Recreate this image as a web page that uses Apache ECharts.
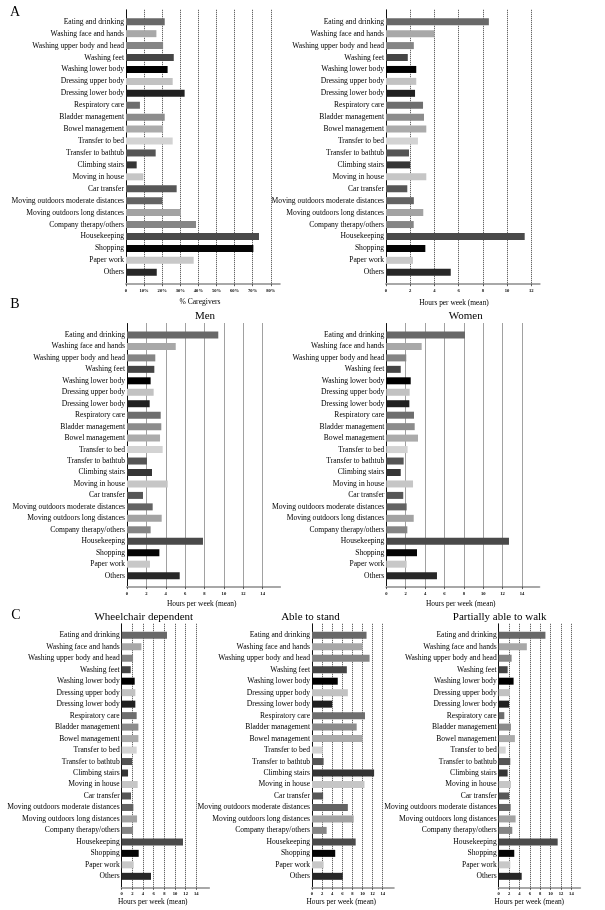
<!DOCTYPE html>
<html><head><meta charset="utf-8">
<script src="https://cdn.jsdelivr.net/npm/echarts@6/dist/echarts.min.js"></script>
<style>html,body{margin:0;padding:0;background:#fff}#c{width:605px;height:910px}</style>
</head><body><div id="c"></div>
<script>
const categories = ["Eating and drinking","Washing face and hands","Washing upper body and head","Washing feet","Washing lower body","Dressing upper body","Dressing lower body","Respiratory care","Bladder management","Bowel management","Transfer to bed","Transfer to bathtub","Climbing stairs","Moving in house","Car transfer","Moving outdoors moderate distances","Moving outdoors long distances","Company therapy/others","Housekeeping","Shopping","Paper work","Others"];
const pctCaregivers = [21.4,16.8,20.5,26.4,23.0,25.8,32.4,7.7,21.4,20.5,25.8,16.4,5.9,9.6,28.0,20.1,30.4,38.7,73.5,70.4,37.4,17.0];
const hoursAll = [8.5,4.0,2.3,1.8,2.5,2.5,2.4,3.06,3.14,3.33,2.64,1.9,2.0,3.33,1.76,2.3,3.08,2.29,11.46,3.25,2.23,5.35];
const hoursMen = [9.42,5.03,2.92,2.82,2.44,2.75,2.34,3.48,3.54,3.41,3.68,2.06,2.58,4.2,1.65,2.65,3.58,2.44,7.84,3.34,2.37,5.44];
const hoursWomen = [8.12,3.65,2.06,1.49,2.52,2.41,2.38,2.86,2.93,3.27,2.2,1.79,1.49,2.76,1.75,2.1,2.83,2.17,12.66,3.17,2.1,5.23];
const hoursWheelchair = [8.5,3.69,2.13,1.69,2.44,2.56,2.56,2.81,3.13,3.13,2.81,1.94,1.19,3.0,1.75,2.19,2.88,2.13,11.5,3.19,2.25,5.5];
const hoursStand = [10.8,10.0,11.4,6.9,5.1,7.1,4.0,10.5,8.85,10.0,2.1,2.3,12.3,10.4,2.2,7.1,8.25,2.9,8.65,4.6,2.3,6.1];
const hoursWalk = [9.0,5.42,2.49,1.72,2.87,2.17,1.98,1.08,2.36,3.12,1.34,2.23,1.72,2.36,1.98,2.3,3.25,2.62,11.36,3.0,2.23,4.43];

const pctTicks = [0,10,20,30,40,50,60,70,80];
const hourTicksA = [0,2,4,6,8,10,12];
const hourTicks = [0,2,4,6,8,10,12,14];

const barColors = ['#686868','#a8a8a8','#858585','#454545','#000000','#c2c2c2','#202020','#6e6e6e','#8c8c8c','#ababab','#d3d3d3','#555555','#353535','#c6c6c6','#575757','#636363','#a3a3a3','#858585','#4a4a4a','#050505','#c8c8c8','#282828'];
const FONT = '"Liberation Serif", "DejaVu Serif", serif';

const panels = [
  {values: pctCaregivers, ticks: pctTicks, pct:true, left:126, top:9.8, width:153.8, height:274.4, max:85},
  {values: hoursAll, ticks: hourTicksA, left:386, top:9.8, width:153.7, height:274.4, max:12.7},
  {values: hoursMen, ticks: hourTicks, left:127, top:323.5, width:153.1, height:263.6, max:15.8},
  {values: hoursWomen, ticks: hourTicks, left:386.3, top:323.5, width:153.1, height:263.6, max:15.8},
  {values: hoursWheelchair, ticks: hourTicks, left:121.7, top:623.8, width:87.4, height:264, max:16.4},
  {values: hoursStand, ticks: hourTicks, left:312, top:623.8, width:81.8, height:264, max:16.2},
  {values: hoursWalk, ticks: hourTicks, left:498.7, top:623.8, width:81.5, height:264, max:15.7}
];

const grids=[], xAxes=[], yAxes=[], series=[];
panels.forEach((p,i)=>{
  grids.push({left:p.left, top:p.top, width:p.width, height:p.height, containLabel:false});
  xAxes.push({type:'value', gridIndex:i, min:0, max:p.max,
    axisLine:{show:true, onZero:false, lineStyle:{color:'#a8a8a8', width:2}},
    axisTick:{show:true, length:2, customValues:p.ticks, lineStyle:{color:'#333', width:0.8}},
    axisLabel:{fontFamily:FONT, fontSize:4.6, fontWeight:'bold', color:'#000', margin:4, customValues:p.ticks,
      formatter: v => (p.pct && v !== 0 ? v + '%' : String(v))},
    splitLine:{show:false}});
  yAxes.push({type:'category', gridIndex:i, inverse:true, boundaryGap:false, data:['', ...categories, ''],
    axisLine:{show:true, onZero:false, lineStyle:{color:'#111', width:1}}, axisTick:{show:false},
    axisLabel:{interval:0, fontFamily:FONT, fontSize:7.6, color:'#000', margin:2}, splitLine:{show:false}});
  series.push({type:'bar', xAxisIndex:i, yAxisIndex:i, barWidth:7, silent:true, z:3,
    data:['-', ...p.values.map((v,k)=>({value:v, itemStyle:{color:barColors[k]}})), '-'],
    markLine:{silent:true, symbol:'none', animation:false, label:{show:false}, z:1,
      lineStyle:{type:'dotted', color:'#444', width:1},
      emphasis:{disabled:true},
      data:p.ticks.filter(t => t > 0).map(t => ({xAxis:t}))}});
});

function txt(x, y, s, size){
  return {type:'text', x:x, y:y, silent:true, style:{text:s, font: size + 'px ' + FONT, fill:'#000', align:'center', verticalAlign:'middle'}};
}
const graphics = [
  txt(15,12,'A',14), txt(15,304,'B',14), txt(16,615,'C',14),
  txt(205,316,'Men',11), txt(465.7,316,'Women',11),
  txt(143.8,617.3,'Wheelchair dependent',11), txt(310.5,617.3,'Able to stand',11), txt(499.7,616.7,'Partially able to walk',11),
  txt(200,301.7,'% Caregivers',7.6), txt(454,302.7,'Hours per week (mean)',7.4),
  txt(201.7,604.3,'Hours per week (mean)',7.4), txt(460.8,604.3,'Hours per week (mean)',7.4),
  txt(152.8,902.3,'Hours per week (mean)',7.4), txt(341.3,902.3,'Hours per week (mean)',7.4), txt(529.3,902.3,'Hours per week (mean)',7.4)
];

const chart = echarts.init(document.getElementById('c'), null, {renderer:'canvas'});
chart.setOption({
  animation:false,
  backgroundColor:'#fff',
  grid:grids, xAxis:xAxes, yAxis:yAxes, series:series,
  graphic:graphics
});
</script></body></html>
